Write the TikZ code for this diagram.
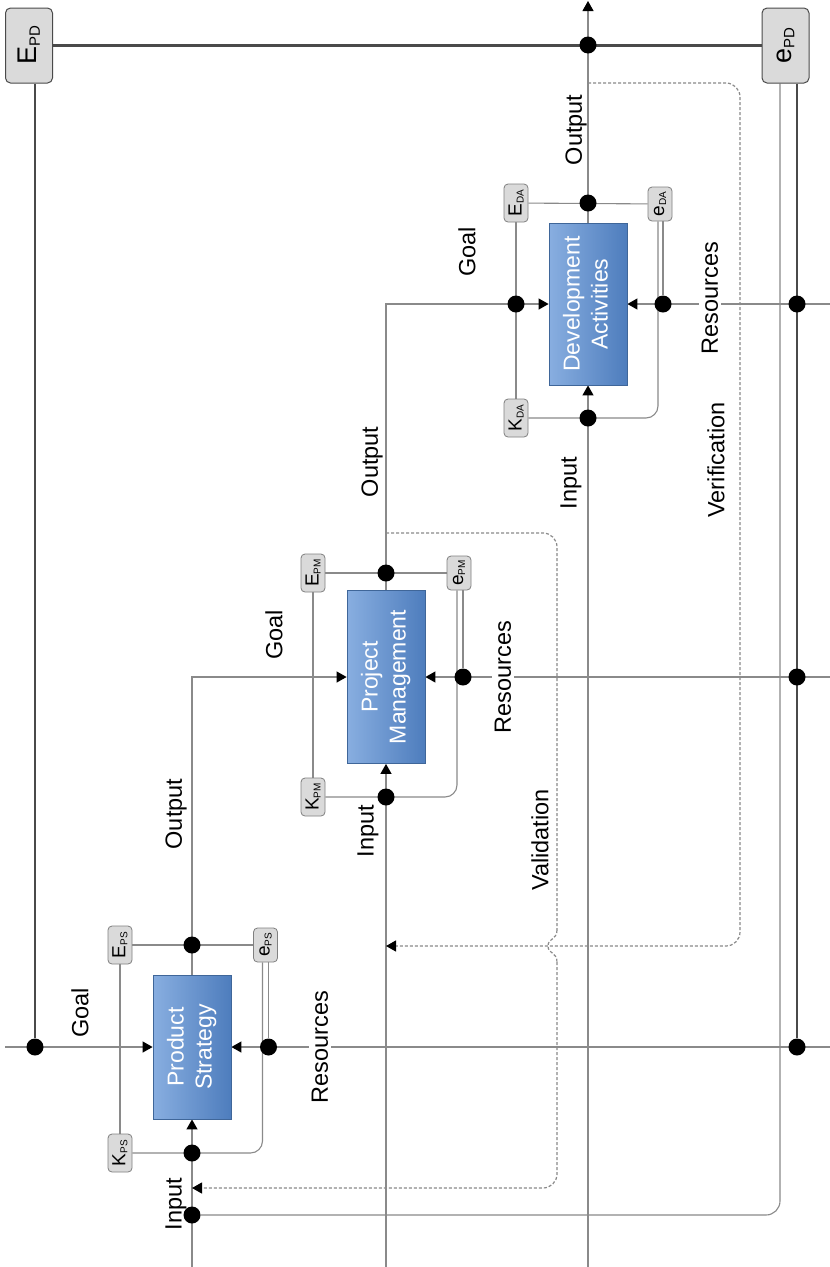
\documentclass[tikz,border=0pt]{standalone}
\usepackage{fontspec}
\setmainfont{Liberation Sans}
\usepackage{graphicx}
\usetikzlibrary{arrows.meta}
\definecolor{lncol}{HTML}{8A8A8A}
\definecolor{thkcol}{HTML}{4A4A4A}
\definecolor{boxL}{HTML}{88AEE0}
\definecolor{boxR}{HTML}{4E7DBD}
\definecolor{boxB}{HTML}{3F6699}
\definecolor{lblfill}{HTML}{DADADA}
\definecolor{lbldraw}{HTML}{808080}
\newcommand\lsub[1]{\raisebox{-2pt}{\fontsize{10}{10}\selectfont #1}}
\newcommand\bsub[1]{\raisebox{-3pt}{\fontsize{15}{15}\selectfont #1}}
\newcommand\rt[1]{\rotatebox{90}{#1}}
\newcommand\rtt[2]{\rotatebox{90}{\begin{tabular}{@{}c@{}}#1\\#2\end{tabular}}}
\pgfdeclarelayer{bg}
\pgfsetlayers{bg,main}
\tikzset{
  ln/.style={draw=lncol, line width=1.1pt},
  thk/.style={draw=thkcol, line width=2.2pt},
  dsh/.style={draw=lncol, line width=1.2pt, dash pattern=on 3pt off 2pt},
  arr/.style={-{Triangle[length=10pt,width=11pt,black]}},
  jdot/.style={circle, fill=black, inner sep=0pt, minimum size=17pt},
  proc/.style={rectangle, left color=boxL, right color=boxR, draw=boxB, line width=0.8pt, text=white, inner sep=0pt, minimum width=78pt, font=\fontsize{23}{28}\selectfont},
  lbl/.style={font=\fontsize{23.5}{28}\selectfont, inner sep=1pt},
  wlbl/.style={lbl, fill=white, inner sep=3pt},
  tagbox/.style={rectangle, rounded corners=4pt, fill=lblfill, draw=lbldraw, line width=0.8pt, inner sep=0pt, minimum width=24pt, minimum height=38pt, font=\fontsize{19}{19}\selectfont},
  etagbox/.style={tagbox, minimum height=34pt},
  bigtag/.style={rectangle, rounded corners=5pt, fill=lblfill, draw=thkcol, line width=1pt, inner sep=0pt, minimum width=47pt, minimum height=75pt, font=\fontsize{27}{27}\selectfont},
}
\begin{document}
\begin{tikzpicture}[x=1pt,y=-1pt]
\useasboundingbox (0,0) rectangle (830,1267);
% frame tags
\node[bigtag] (EPD) at (29,45.5) {\rt{E\bsub{PD}}};
\node[bigtag] (ePD) at (785.5,45.5) {\rt{e\bsub{PD}}};
% process boxes
\node[proc, minimum height=144pt] (PS) at (192,1047) {\rtt{Product}{Strategy}};
\node[proc, minimum height=173pt] (PM) at (386,677) {\rtt{Project}{Management}};
\node[proc, minimum height=162pt] (DA) at (588,304) {\rtt{Development}{Activities}};
% small tags
\node[tagbox] (EPS) at (120,945) {\rt{E\lsub{PS}}};
\node[etagbox] (ePS) at (265.5,945) {\rt{e\lsub{PS}}};
\node[tagbox] (KPS) at (120,1153) {\rt{K\lsub{PS}}};
\node[tagbox] (EPM) at (313,573) {\rt{E\lsub{PM}}};
\node[etagbox] (ePM) at (459,573) {\rt{e\lsub{PM}}};
\node[tagbox] (KPM) at (313,797) {\rt{K\lsub{PM}}};
\node[tagbox] (EDA) at (516,203) {\rt{E\lsub{DA}}};
\node[etagbox] (eDA) at (660,204) {\rt{e\lsub{DA}}};
\node[tagbox] (KDA) at (516,418) {\rt{K\lsub{DA}}};
% junction dots
\node[jdot] (dTop) at (588,45) {};
\node[jdot] (dG) at (35,1047) {};
\node[jdot] (dPSres) at (268.5,1047) {};
\node[jdot] (dPSout) at (192,945) {};
\node[jdot] (dPSin) at (192,1153) {};
\node[jdot] (dPDin) at (192,1215) {};
\node[jdot] (dPMout) at (386,573) {};
\node[jdot] (dPMin) at (386,797) {};
\node[jdot] (dPMres) at (463,677) {};
\node[jdot] (dDAout) at (588,203) {};
\node[jdot] (dDAin) at (588,418) {};
\node[jdot] (dDAgoal) at (516,304) {};
\node[jdot] (dDAres) at (663,304) {};
\node[jdot] (dR1) at (797,304) {};
\node[jdot] (dR2) at (797,677) {};
\node[jdot] (dR3) at (797,1047) {};
% helper coordinates
\coordinate (lEdge) at (5,1047);
\coordinate (rPS) at (830,1047);
\coordinate (rPM) at (830,677);
\coordinate (rDA) at (830,304);
\coordinate (bPS) at (192,1267);
\coordinate (bPM) at (386,1267);
\coordinate (bDA) at (588,1267);
\coordinate (tDA) at (588,1);
\coordinate (cPSo) at (192,677);
\coordinate (cPMo) at (386,304);
\coordinate (cPSk) at (262.5,1153);
\coordinate (cPMk) at (457,797);
\coordinate (cDAk) at (658,418);
\coordinate (cThin) at (780,1215);
\coordinate (vA) at (588,83);
\coordinate (vB) at (740,83);
\coordinate (vC) at (740,946);
\coordinate (vD) at (386,946);
\coordinate (wA) at (386,533);
\coordinate (wB) at (557,533);
\coordinate (wC) at (557,930);
\coordinate (hop) at (548,946);
\coordinate (wD) at (557,962);
\coordinate (wE) at (557,1188);
\coordinate (wF) at (192,1188);
\begin{pgfonlayer}{bg}
\fill[white] (0,0) rectangle (830,1267);
% frame lines
\draw[thk] (EPD) -- (ePD);
\draw[thk] (EPD.south -| dG) -- (dG);
\draw[thk] (ePD.south -| dR1) -- (dR3);
\draw[ln, rounded corners=14pt] (ePD.south -| cThin) -- (cThin) -- (dPDin);
% Product Strategy
\draw[ln, arr] (lEdge) -- (PS.west);
\draw[ln, arr] (rPS) -- (PS.east);
\draw[ln, arr] (bPS) -- (PS.south);
\draw[ln, arr] (PS.north) -- (cPSo) -- (PM.west);
\draw[ln] (EPS) -- (ePS);
\draw[ln] (EPS) -- (KPS);
\draw[ln, rounded corners=12pt] (KPS) -- (cPSk) -- (ePS.south -| cPSk);
\draw[ln] (ePS.south -| dPSres) -- (dPSres);
% Project Management
\draw[ln, arr] (rPM) -- (PM.east);
\draw[ln, arr] (bPM) -- (PM.south);
\draw[ln, arr] (PM.north) -- (cPMo) -- (DA.west);
\draw[ln] (EPM) -- (ePM);
\draw[ln] (EPM) -- (KPM);
\draw[ln, rounded corners=12pt] (KPM) -- (cPMk) -- (ePM.south -| cPMk);
\draw[ln] (ePM.south -| dPMres) -- (dPMres);
% Development Activities
\draw[ln, arr] (rDA) -- (DA.east);
\draw[ln, arr] (bDA) -- (DA.south);
\draw[ln, arr] (DA.north) -- (tDA);
\draw[ln] (EDA) -- (eDA);
\draw[ln] (EDA) -- (KDA);
\draw[ln, rounded corners=12pt] (KDA) -- (cDAk) -- (eDA.south -| cDAk);
\draw[ln] (eDA.south -| dDAres) -- (dDAres);
% verification and validation
\draw[dsh, rounded corners=14pt, arr] (vA) -- (vB) -- (vC) -- (vD);
\draw[dsh, rounded corners=14pt] (wA) -- (wB) -- (wC);
\draw[dsh] (wC) .. controls +(0,10) and +(0,-8) .. (hop) .. controls +(0,8) and +(0,-10) .. (wD);
\draw[dsh, rounded corners=14pt, arr] (wD) -- (wE) -- (wF);
\end{pgfonlayer}
% labels
\node[lbl] (gPS) at (80,1013) {\rt{Goal}};
\node[wlbl] (rsPS) at (320,1047) {\rt{Resources}};
\node[lbl] (iPS) at (176,1204) {\rt{Input}};
\node[lbl] (oPS) at (176,814) {\rt{Output}};
\node[lbl] (gPM) at (274,635) {\rt{Goal}};
\node[wlbl] (rsPM) at (503,677) {\rt{Resources}};
\node[lbl] (iPM) at (368,831) {\rt{Input}};
\node[lbl] (oPM) at (372,462) {\rt{Output}};
\node[lbl] (gDA) at (467,252) {\rt{Goal}};
\node[wlbl] (rsDA) at (710,298) {\rt{Resources}};
\node[lbl] (iDA) at (571,483) {\rt{Input}};
\node[lbl] (oDA) at (576,130) {\rt{Output}};
\node[lbl] (ver) at (716,460) {\rt{Verification}};
\node[lbl] (val) at (540,840) {\rt{Validation}};
\end{tikzpicture}
\end{document}
